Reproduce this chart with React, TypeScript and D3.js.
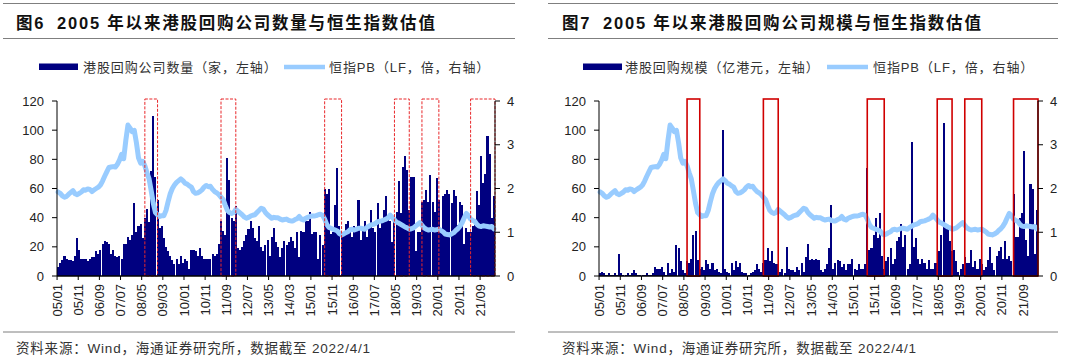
import React from 'react';
import * as d3 from 'd3';

// monthly categories 2005/01 .. 2022/03
const months: string[] = d3.timeMonth
  .range(new Date(2005, 0, 1), new Date(2022, 3, 1))
  .map(d3.timeFormat('%y/%m'));

const tickLabels = ['05/01', '05/11', '06/09', '07/07', '08/05', '09/03', '10/01', '10/11', '11/09', '12/07',
  '13/05', '14/03', '15/01', '15/11', '16/09', '17/07', '18/05', '19/03', '20/01', '20/11', '21/09'];

const leftTicks = [0, 20, 40, 60, 80, 100, 120];
const rightTicks = [0, 1, 2, 3, 4];

// 港股回购公司数量（家）
const buybackCount = [
  6, 9, 11, 14, 12, 11, 11, 10, 14, 26,
  18, 12, 12, 12, 10, 12, 13, 13, 17, 15,
  18, 22, 24, 23, 22, 15, 18, 14, 13, 14,
  12, 22, 22, 27, 25, 28, 50, 30, 34, 36,
  26, 40, 46, 37, 72, 110, 68, 52, 33, 34,
  26, 20, 17, 14, 11, 8, 12, 8, 14, 9,
  12, 10, 5, 18, 18, 17, 14, 19, 14, 12,
  12, 12, 12, 15, 14, 15, 22, 38, 31, 28,
  81, 66, 40, 38, 48, 19, 18, 20, 24, 28,
  32, 38, 33, 26, 24, 34, 20, 17, 21, 25,
  14, 27, 33, 23, 20, 13, 19, 24, 21, 23,
  27, 24, 19, 30, 13, 31, 30, 38, 38, 44,
  29, 30, 30, 12, 28, 21, 60, 56, 60, 29,
  30, 49, 74, 34, 28, 28, 36, 38, 31, 27,
  34, 33, 52, 25, 33, 38, 27, 33, 45, 33,
  30, 50, 33, 38, 45, 55, 40, 38, 23, 40,
  44, 65, 43, 75, 82, 73, 45, 68, 68, 17,
  30, 30, 51, 52, 59, 51, 69, 51, 44, 67,
  52, 30, 55, 56, 59, 56, 50, 59, 55, 35,
  51, 49, 22, 33, 30, 30, 34, 35, 58, 49,
  82, 64, 70, 96, 84, 40, 55,
];

// 港股回购规模（亿港元）
const buybackSize = [
  2, 3, 2, 1, 2, 1, 1, 2, 1, 15,
  2, 1, 1, 2, 1, 2, 4, 2, 1, 1,
  1, 1, 2, 1, 1, 2, 6, 5, 5, 6,
  3, 1, 9, 2, 5, 3, 21, 19, 10, 4,
  2, 10, 9, 12, 28, 31, 11, 5, 6, 4,
  11, 8, 5, 9, 4, 5, 3, 2, 100, 5,
  3, 2, 9, 4, 10, 6, 9, 3, 2, 2,
  1, 2, 3, 4, 8, 5, 3, 9, 11, 19,
  10, 17, 9, 8, 8, 3, 5, 2, 20, 5,
  4, 4, 3, 6, 4, 9, 3, 13, 22, 11,
  12, 11, 12, 11, 4, 3, 5, 8, 19, 49,
  5, 9, 11, 10, 6, 8, 4, 8, 8, 12,
  5, 4, 8, 5, 5, 8, 74, 18, 19, 28,
  40, 26, 43, 14, 5, 10, 13, 19, 8, 12,
  24, 27, 36, 20, 28, 5, 8, 92, 20, 26,
  12, 8, 12, 9, 5, 11, 5, 5, 9, 9,
  17, 28, 105, 35, 34, 24, 17, 18, 10, 3,
  5, 8, 13, 9, 9, 18, 6, 10, 5, 12,
  8, 4, 6, 11, 20, 9, 4, 14, 17, 20,
  12, 24, 12, 14, 10, 56, 27, 27, 40, 43,
  86, 25, 14, 63, 60, 15, 45,
];

// 恒指PB（LF，倍）
const hsiPB = [
  1.92, 1.89, 1.83, 1.80, 1.82, 1.87, 1.91, 1.95, 1.88, 1.86,
  1.89, 1.92, 1.97, 1.96, 1.99, 1.98, 1.93, 1.97, 2.00, 2.03,
  2.08, 2.17, 2.28, 2.38, 2.48, 2.49, 2.50, 2.49, 2.55, 2.65,
  2.78, 2.68, 3.10, 3.45, 3.38, 3.30, 3.33, 3.05, 2.70, 2.58,
  2.62, 2.52, 2.36, 2.22, 1.95, 1.66, 1.45, 1.40, 1.36, 1.38,
  1.38, 1.50, 1.70, 1.88, 2.00, 2.08, 2.14, 2.18, 2.22, 2.18,
  2.12, 2.10, 2.06, 2.03, 1.93, 1.89, 1.90, 1.93, 1.97, 2.03,
  2.07, 2.04, 2.05, 1.98, 1.93, 1.90, 1.86, 1.80, 1.75, 1.62,
  1.50, 1.45, 1.43, 1.45, 1.52, 1.48, 1.44, 1.40, 1.35, 1.32,
  1.34, 1.37, 1.39, 1.40, 1.45, 1.50, 1.55, 1.53, 1.45, 1.40,
  1.36, 1.32, 1.34, 1.33, 1.33, 1.30, 1.28, 1.29, 1.30, 1.27,
  1.26, 1.26, 1.29, 1.31, 1.36, 1.30, 1.28, 1.32, 1.34, 1.36,
  1.37, 1.37, 1.38, 1.40, 1.41, 1.39, 1.30, 1.18, 1.11, 1.09,
  1.07, 1.05, 1.03, 0.97, 0.94, 0.96, 0.99, 1.01, 1.06, 1.07,
  1.05, 1.07, 1.09, 1.09, 1.08, 1.07, 1.11, 1.14, 1.17, 1.18,
  1.20, 1.24, 1.25, 1.26, 1.28, 1.30, 1.33, 1.39, 1.34, 1.28,
  1.23, 1.21, 1.18, 1.15, 1.12, 1.10, 1.07, 1.08, 1.10, 1.14,
  1.18, 1.22, 1.16, 1.10, 1.07, 1.05, 1.06, 1.07, 1.05, 1.06,
  1.07, 1.04, 1.01, 0.96, 0.95, 0.94, 0.96, 0.99, 1.04, 1.08,
  1.14, 1.22, 1.33, 1.43, 1.38, 1.30, 1.27, 1.25, 1.18, 1.14,
  1.13, 1.15, 1.14, 1.13, 1.12, 1.13, 1.08,
];

// highlighted buyback periods (start month, end month)
const periods = [
  ['08/06', '08/12'],
  ['11/06', '12/01'],
  ['15/07', '16/03'],
  ['18/04', '18/11'],
  ['19/05', '20/01'],
  ['21/04', '22/03'],
];

const FONT = '"Liberation Sans", Arial, "Noto Sans CJK SC", sans-serif';
const NAVY = '#000080';
const PB_BLUE = '#99CCFF';

type Cfg = {
  figNo: string; titleRest: string; barName: string; bars: number[];
  x0: number; x1: number; titleX: number; lineX0: number; lineX1: number;
  legSw: number; legText: number; legLine: number; legLineText: number;
  dashed: boolean;
};

const panels: Cfg[] = [
  {
    figNo: '图6', titleRest: '2005 年以来港股回购公司数量与恒生指数估值', barName: '港股回购公司数量（家，左轴）',
    bars: buybackCount, x0: 57, x1: 495, titleX: 16, lineX0: 3, lineX1: 515,
    legSw: 39, legText: 83, legLine: 284, legLineText: 329, dashed: true,
  },
  {
    figNo: '图7', titleRest: '2005 年以来港股回购公司规模与恒生指数估值', barName: '港股回购规模（亿港元，左轴）',
    bars: buybackSize, x0: 599, x1: 1038, titleX: 562, lineX0: 548, lineX1: 1058,
    legSw: 583, legText: 625, legLine: 827, legLineText: 873, dashed: false,
  },
];

const Y0 = 101, Y1 = 276;

function Panel({ cfg }: { cfg: Cfg }) {
  const x = d3.scaleBand<string>().domain(months).range([cfg.x0, cfg.x1]).paddingInner(0.03).paddingOuter(0.05);
  const yL = d3.scaleLinear().domain([0, 120]).range([Y1, Y0]);
  const yR = d3.scaleLinear().domain([0, 4]).range([Y1, Y0]);
  const bw = x.bandwidth();
  const edge = (m: string) => (x(m) as number) - (x.step() * x.paddingInner()) / 2;
  const mid = (m: string) => (x(m) as number) + bw / 2;

  const line = d3.line<number>()
    .x((_, i) => mid(months[i]))
    .y(d => yR(d));

  const last = months[months.length - 1];

  return (
    <g>
      {/* header */}
      <line x1={cfg.lineX0} x2={cfg.lineX1} y1={3.5} y2={3.5} stroke="#7f7f7f" strokeWidth={1} />
      <text x={cfg.titleX} y={23} fontFamily={FONT} fontWeight="bold" fontSize={16.5} fill="#111"
        dominantBaseline="central" letterSpacing={1.8}>
        {cfg.figNo}
        <tspan x={cfg.titleX + 41}>{cfg.titleRest}</tspan>
      </text>
      <line x1={cfg.lineX0} x2={cfg.lineX1} y1={38.5} y2={38.5} stroke="#7f7f7f" strokeWidth={1} />

      {/* legend */}
      <rect x={cfg.legSw} y={63.5} width={39} height={6.5} fill={NAVY} />
      <text x={cfg.legText} y={67} fontFamily={FONT} fontSize={13} fill="#333" dominantBaseline="central" letterSpacing={0.9}>
        {cfg.barName}
      </text>
      <line x1={cfg.legLine} x2={cfg.legLine + 41} y1={67} y2={67} stroke={PB_BLUE} strokeWidth={4.5} />
      <text x={cfg.legLineText} y={67} fontFamily={FONT} fontSize={13} fill="#333" dominantBaseline="central" letterSpacing={0.9}>
        恒指PB（LF，倍，右轴）
      </text>

      {/* bars */}
      <g shapeRendering="crispEdges">
        {cfg.bars.map((v, i) => (
          <rect key={i} x={x(months[i])} y={yL(v)} width={bw} height={Y1 - yL(v)} fill={NAVY} />
        ))}
      </g>

      {/* PB line */}
      <path d={line(hsiPB) || ''} fill="none" stroke={PB_BLUE} strokeWidth={5} strokeLinejoin="round" strokeLinecap="round" />

      {/* highlight boxes */}
      {periods.map(([s, e], k) => {
        const bx0 = mid(s);
        const bx1 = e === last ? cfg.x1 : mid(e);
        return (
          <rect key={k} x={bx0} y={Y0 - 2} width={bx1 - bx0} height={Y1 - Y0 + 2} fill="none"
            stroke={cfg.dashed ? '#E8272A' : '#D00000'} strokeWidth={cfg.dashed ? 1 : 1.6}
            strokeDasharray={cfg.dashed ? '3 1.5' : undefined} />
        );
      })}

      {/* left axis */}
      <line x1={cfg.x0} x2={cfg.x0} y1={Y0} y2={Y1} stroke="#000" />
      {leftTicks.map(t => (
        <g key={t}>
          <line x1={cfg.x0 - 5} x2={cfg.x0} y1={yL(t)} y2={yL(t)} stroke="#000" />
          <text x={cfg.x0 - 13} y={yL(t)} textAnchor="end" dominantBaseline="central" fontFamily={FONT} fontSize={13} fill="#222">{t}</text>
        </g>
      ))}

      {/* right axis */}
      <line x1={cfg.x1} x2={cfg.x1} y1={Y0} y2={Y1} stroke="#000" />
      {rightTicks.map(t => (
        <g key={t}>
          <line x1={cfg.x1} x2={cfg.x1 + 5} y1={yR(t)} y2={yR(t)} stroke="#000" />
          <text x={cfg.x1 + 12} y={yR(t)} textAnchor="start" dominantBaseline="central" fontFamily={FONT} fontSize={13} fill="#222">{t}</text>
        </g>
      ))}

      {/* bottom axis */}
      <line x1={cfg.x0} x2={cfg.x1} y1={Y1} y2={Y1} stroke="#000" strokeWidth={1.5} />
      {tickLabels.map(lbl => {
        const tx = edge(lbl);
        return (
          <g key={lbl}>
            <line x1={tx} x2={tx} y1={Y1} y2={Y1 + 4} stroke="#000" />
            <text transform={`translate(${tx},${Y1 + 8}) rotate(-90)`} textAnchor="end" dy="0.35em"
              fontFamily={FONT} fontSize={13} fill="#222">{lbl}</text>
          </g>
        );
      })}

      {/* footer */}
      <line x1={cfg.lineX0} x2={cfg.lineX1} y1={332} y2={332} stroke="#7f7f7f" strokeWidth={1} />
      <text x={cfg.titleX} y={348} fontFamily={FONT} fontSize={13.5} fill="#333" dominantBaseline="central" letterSpacing={0.8}>
        资料来源：Wind，海通证券研究所，数据截至 2022/4/1
      </text>
    </g>
  );
}

export default function App() {
  return (
    <svg width={1080} height={360} viewBox="0 0 1080 360"
      style={{ position: 'absolute', left: 0, top: 0, background: '#fff' }}>
      {panels.map((p, i) => <Panel key={i} cfg={p} />)}
    </svg>
  );
}
